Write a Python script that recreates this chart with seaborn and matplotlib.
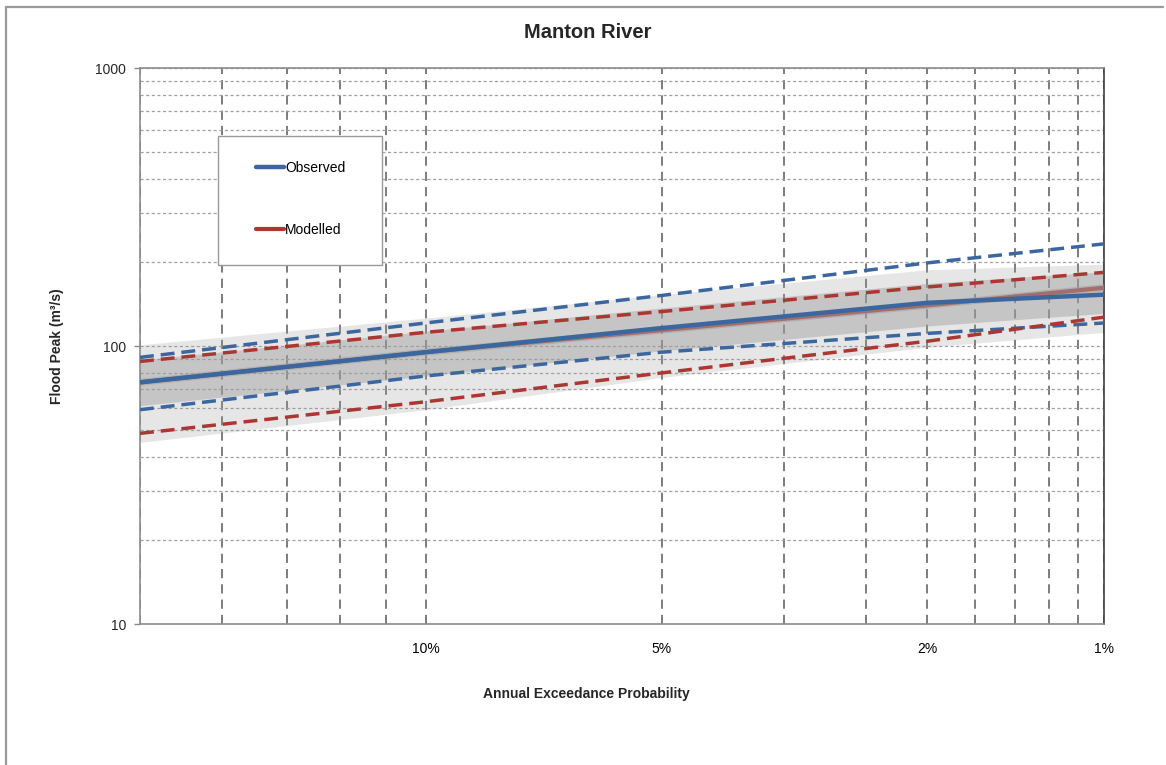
import numpy as np
import pandas as pd
import seaborn as sns
import matplotlib
matplotlib.use("Agg")
import matplotlib.pyplot as plt
from matplotlib.lines import Line2D
from matplotlib.patches import Rectangle
from statistics import NormalDist

# ---------------- data ----------------
aep = [20, 10, 5, 2, 1]                       # annual exceedance probability, %

obs_center = [74, 95, 116, 143, 153]
obs_upper = [91, 121, 152, 199, 233]
obs_lower = [59, 78, 95, 111, 121]

mod_center = [74, 95, 114, 140, 162]
mod_upper = [88, 112, 133, 163, 184]
mod_lower = [48.5, 63, 80, 104, 127]

# envelope of the grey cloud of modelled points
cloud_outer_hi = [101, 126, 153, 188, 197]
cloud_outer_lo = [45, 59, 77, 99, 112]
cloud_core_hi = [89, 113, 137, 168, 185]
cloud_core_lo = [61, 78, 96, 118, 131]

grid_aep = [20, 100 / 6, 100 / 7, 12.5, 100 / 9, 10, 5, 100 / 30, 2.5, 2,
            100 / 60, 100 / 70, 1.25, 100 / 90, 1]
xtick_aep = [10, 5, 2, 1]
xtick_labels = ["10%", "5%", "2%", "1%"]
ytick_vals = [10, 100, 1000]
ytick_labels = ["10", "100", "1000"]

title = "Manton River"
xlabel = "Annual Exceedance Probability"
ylabel = "Flood Peak (m\u00b3/s)"

# ---------------- style ----------------
sns.set_theme(style="white")
plt.rcParams["font.family"] = ["Liberation Sans", "DejaVu Sans"]

BLUE = "#3B669E"
RED = "#A93833"
GREY = "#9E9E9E"

nd = NormalDist()


def fwd(a):
    a = np.clip(np.asarray(a, dtype=float), 1e-6, 100 - 1e-6)
    flat = [nd.inv_cdf(1 - v / 100.0) for v in a.ravel()]
    return np.array(flat).reshape(a.shape)


def inv(z):
    z = np.asarray(z, dtype=float)
    flat = [100.0 * (1 - nd.cdf(v)) for v in z.ravel()]
    return np.array(flat).reshape(z.shape)


fig = plt.figure(figsize=(11.66, 7.65), dpi=100)
ax = fig.add_axes([140 / 1166, 1 - 624 / 765, 964 / 1166, 556 / 765])
ax.set_xscale("function", functions=(fwd, inv))
ax.set_yscale("log")

df = pd.DataFrame({
    "aep": aep,
    "obs_center": obs_center, "obs_upper": obs_upper, "obs_lower": obs_lower,
    "mod_center": mod_center, "mod_upper": mod_upper, "mod_lower": mod_lower,
})

# cloud
ax.fill_between(aep, cloud_outer_lo, cloud_outer_hi, color=GREY, alpha=0.25,
                linewidth=0, zorder=2)
ax.fill_between(aep, cloud_core_lo, cloud_core_hi, color=GREY, alpha=0.45,
                linewidth=0, zorder=2)

# lines
sns.lineplot(data=df, x="aep", y="obs_center", ax=ax, color=BLUE, lw=3.2,
             label="Observed", zorder=6)
sns.lineplot(data=df, x="aep", y="mod_center", ax=ax, color=RED, lw=3,
             label="Modelled", zorder=4)
sns.lineplot(data=df, x="aep", y="mod_center", ax=ax, color=GREY, lw=5,
             alpha=0.55, legend=False, zorder=5)
for col, c in [("obs_upper", BLUE), ("obs_lower", BLUE),
               ("mod_upper", RED), ("mod_lower", RED)]:
    sns.lineplot(data=df, x="aep", y=col, ax=ax, color=c, lw=2.5,
                 legend=False, zorder=4).lines[-1].set_dashes((4, 2))

ax.set_xlim(1, 20)
if ax.transData.transform((20, 100))[0] > ax.transData.transform((1, 100))[0]:
    ax.invert_xaxis()
ax.set_ylim(10, 1000)

# ticks & grid
ax.set_xticks(xtick_aep)
ax.set_xticklabels(xtick_labels)
ax.set_xticks([a for a in grid_aep if a not in xtick_aep], minor=True)
ax.xaxis.set_minor_formatter(matplotlib.ticker.NullFormatter())
ax.set_yticks(ytick_vals)
ax.set_yticklabels(ytick_labels)
ax.yaxis.set_minor_locator(matplotlib.ticker.LogLocator(base=10, subs=range(2, 10)))
ax.yaxis.set_minor_formatter(matplotlib.ticker.NullFormatter())

ax.tick_params(axis="x", which="both", length=0, pad=13, labelsize=10, colors="black")
ax.tick_params(axis="y", which="major", length=4, width=1, color="#888888",
               direction="out", pad=6, labelsize=10, left=True)
ax.tick_params(axis="y", which="minor", length=0)

ax.grid(axis="x", which="both", color="#585858", linestyle=(0, (6, 4)), lw=1.1)
ax.grid(axis="y", which="both", color="#a0a0a0", linestyle=(0, (2.5, 2)), lw=0.9)
ax.set_axisbelow(True)

for s in ax.spines.values():
    s.set_visible(True)
    s.set_color("#8c8c8c")
    s.set_linewidth(1.2)
ax.spines["right"].set_color("#404040")

ax.set_xlabel("")
ax.set_ylabel("")

# legend: frame drawn as a box, entries placed inside
ax.add_patch(Rectangle(((218 - 140) / 964, (624 - 265) / 556), 164 / 964, 129 / 556,
                       transform=ax.transAxes, facecolor="white",
                       edgecolor="#999999", lw=1.0, zorder=6))
h, l = ax.get_legend_handles_labels()
leg = ax.legend(h[:2], l[:2], loc="upper left",
                bbox_to_anchor=((256 - 140) / 964, (624 - 161) / 556),
                frameon=False, fontsize=10, handlelength=2.0, handletextpad=0.1,
                labelspacing=3.45, borderpad=0, borderaxespad=0)
leg.set_zorder(7)
for t in leg.get_texts():
    t.set_color("black")

# titles
fig.text(588 / 1166, 1 - 32 / 765, title, ha="center", va="center",
         fontsize=14.5, fontweight="bold")
fig.text(586 / 1166, 1 - 694 / 765, xlabel, ha="center", va="center",
         fontsize=10, fontweight="bold")
fig.text(57 / 1166, 1 - 346 / 765, ylabel, ha="center", va="center",
         rotation=90, fontsize=10, fontweight="bold")

# outer chart border (left and top edges visible)
fig.add_artist(Line2D([6 / 1166, 6 / 1166], [0, 1 - 7 / 765],
                      transform=fig.transFigure, color="#9a9a9a", lw=1.6))
fig.add_artist(Line2D([6 / 1166, 1163 / 1166], [1 - 7 / 765, 1 - 7 / 765],
                      transform=fig.transFigure, color="#9a9a9a", lw=1.6))

fig.savefig("out.png", dpi=100)
